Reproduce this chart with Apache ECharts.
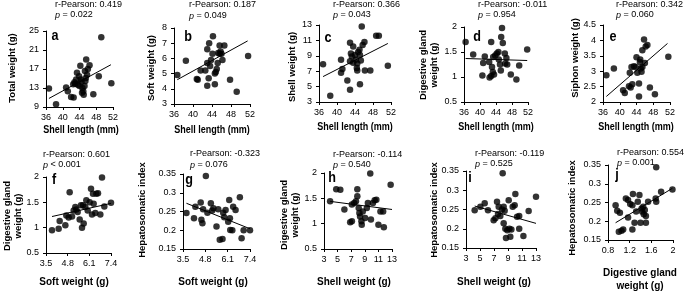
<!DOCTYPE html>
<html><head><meta charset="utf-8">
<script src="https://cdn.jsdelivr.net/npm/echarts@6/dist/echarts.min.js"></script>
<style>html,body{margin:0;padding:0;background:#fff}#c{width:685px;height:292px}</style>
</head><body><div id="c"></div>
<script>
// ---- data ----
const aData = [[36.7,12.9],[38.4,9.6],[40.8,13.1],[41.2,12.3],[42.0,11.1],[42.6,11.0],[42.8,14.2],[43.2,14.8],[43.4,16.2],[43.6,13.7],[44.0,13.4],[44.2,17.7],[44.5,14.3],[44.7,13.0],[44.9,12.3],[45.0,11.6],[45.3,16.6],[45.5,15.1],[45.6,19.0],[45.8,15.8],[46.0,17.0],[46.4,17.8],[47.3,11.7],[48.6,15.5],[49.2,23.7],[51.6,14.0],[43.0,13.9],[44.3,14.8],[45.2,13.4],[43.9,15.5],[42.5,13.8],[44.6,12.0],[45.4,14.5]];
const aTrend = [[36.7,10.8],[51.5,17.9]];
const bData = [[36.7,4.9],[38.5,5.85],[40.8,4.65],[41.0,4.6],[41.6,5.2],[42.6,5.2],[43.0,5.7],[43.0,6.6],[43.0,4.2],[43.3,4.7],[43.4,7.0],[43.6,5.5],[43.8,5.9],[44.1,6.3],[44.2,7.45],[44.6,4.3],[44.8,5.1],[45.0,5.3],[45.2,5.7],[45.3,6.35],[45.6,6.3],[45.8,6.45],[45.6,6.85],[46.2,5.9],[46.6,6.85],[46.0,6.3],[47.8,4.6],[49.2,3.8],[51.6,6.15],[44.6,5.0]];
const bTrend = [[36.7,4.6],[51.5,7.15]];
const cData = [[36.9,7.9],[38.5,3.8],[40.9,8.5],[40.9,6.8],[41.2,7.3],[42.3,5.8],[42.9,10.7],[42.9,4.6],[42.9,8.3],[43.1,9.3],[43.3,8.9],[43.6,10.2],[43.6,8.1],[44.0,9.1],[44.2,8.5],[44.5,8.0],[44.5,7.1],[44.7,9.5],[45.0,9.8],[45.1,9.1],[45.3,8.4],[45.1,5.3],[45.5,12.8],[45.7,10.4],[46.1,10.8],[46.2,7.1],[47.4,7.1],[48.7,11.6],[49.3,11.6],[51.3,7.7],[44.4,7.4]];
const cTrend = [[36.9,6.3],[51.3,10.6]];
const dData = [[36.4,1.70],[38.3,1.45],[40.6,1.03],[40.8,1.28],[41.2,1.41],[42.3,1.30],[42.4,0.99],[42.8,1.02],[42.8,1.70],[43.0,1.20],[43.2,1.10],[43.5,1.05],[43.3,1.40],[43.8,1.43],[44.2,1.47],[44.6,1.50],[44.7,1.35],[45.0,1.25],[45.2,1.13],[45.3,1.80],[45.5,1.98],[45.7,1.68],[46.2,1.47],[46.3,1.27],[46.6,1.38],[46.8,1.25],[47.7,1.05],[49.1,0.95],[49.8,1.23],[51.8,1.55]];
const dTrend = [[36.4,1.37],[51.8,1.33]];
const eData = [[36.8,2.87],[38.6,3.09],[40.8,2.38],[41.2,2.29],[42.2,2.51],[42.6,2.47],[43.0,2.58],[42.8,3.14],[42.4,2.95],[43.4,3.16],[43.8,3.14],[44.0,3.45],[44.2,2.95],[44.6,2.6],[44.6,2.18],[44.8,3.3],[45.0,3.09],[45.2,2.98],[45.4,3.14],[45.4,3.68],[45.8,4.03],[46.2,3.8],[46.6,3.85],[46.0,3.27],[47.2,2.47],[48.4,2.25],[51.6,3.47],[44.9,3.38]];
const eTrend = [[36.8,2.18],[51.4,3.9]];
const fData = [[3.86,0.95],[4.26,0.98],[4.32,1.13],[4.66,1.05],[4.72,1.24],[4.86,1.2],[4.92,1.70],[5.06,1.22],[5.16,1.34],[5.26,1.41],[5.32,1.36],[5.4,1.31],[5.52,1.16],[5.66,1.0],[5.76,1.08],[5.6,1.44],[5.72,1.44],[5.86,1.41],[5.92,1.54],[6.0,1.34],[6.12,1.5],[6.2,1.77],[6.26,1.26],[6.32,1.67],[6.36,1.47],[6.46,1.29],[6.52,1.67],[6.62,1.68],[6.76,1.26],[6.86,1.99],[7.0,1.42],[7.4,1.49]];
const fTrend = [[3.86,1.22],[7.4,1.48]];
const gData = [[3.7,0.246],[4.14,0.232],[4.22,0.263],[4.53,0.274],[4.57,0.228],[4.63,0.219],[4.67,0.256],[4.83,0.345],[4.92,0.247],[5.12,0.272],[5.2,0.253],[5.27,0.259],[5.45,0.21],[5.55,0.256],[5.64,0.175],[5.8,0.177],[5.84,0.247],[5.9,0.235],[5.98,0.254],[6.13,0.223],[6.19,0.281],[6.23,0.232],[6.25,0.201],[6.37,0.2],[6.42,0.263],[6.56,0.254],[6.81,0.288],[6.91,0.179],[7.03,0.2],[7.4,0.2]];
const gTrend = [[3.7,0.272],[7.4,0.204]];
const hData = [[3.9,1.44],[4.8,1.68],[5.4,1.67],[6.0,1.28],[6.85,1.03],[7.1,1.05],[7.1,1.38],[7.45,1.41],[7.7,1.44],[7.9,1.68],[7.9,1.54],[8.1,1.31],[8.2,1.21],[8.3,1.14],[8.5,1.05],[8.55,0.98],[8.7,1.24],[9.05,1.11],[9.3,1.31],[9.45,1.41],[9.8,1.99],[9.9,1.08],[10.2,1.41],[10.45,1.46],[10.7,1.47],[11.0,0.98],[11.3,1.24],[11.7,1.24],[11.8,0.93],[12.8,1.77]];
const hTrend = [[3.9,1.44],[13,1.28]];
const iData = [[4.24,0.248],[5.05,0.257],[5.67,0.266],[6.14,0.248],[6.95,0.222],[7.2,0.227],[7.43,0.27],[7.57,0.238],[7.67,0.257],[7.9,0.233],[8.14,0.25],[8.24,0.344],[8.38,0.257],[8.52,0.247],[8.38,0.214],[8.62,0.2],[8.71,0.176],[8.9,0.196],[9.1,0.274],[9.2,0.2],[9.33,0.179],[9.48,0.198],[9.67,0.257],[9.95,0.261],[10.05,0.29],[10.3,0.231],[10.6,0.233],[10.6,0.2],[11.2,0.181],[11.95,0.246],[13.0,0.283]];
const iTrend = [[4.24,0.259],[13,0.214]];
const jData = [[0.94,0.243],[0.97,0.228],[1.02,0.223],[1.0,0.172],[1.05,0.175],[1.08,0.178],[1.13,0.261],[1.17,0.257],[1.17,0.21],[1.21,0.246],[1.25,0.243],[1.26,0.273],[1.29,0.196],[1.25,0.178],[1.32,0.226],[1.35,0.252],[1.38,0.27],[1.4,0.196],[1.42,0.234],[1.43,0.226],[1.45,0.239],[1.46,0.219],[1.48,0.23],[1.5,0.214],[1.5,0.196],[1.54,0.252],[1.68,0.261],[1.69,0.252],[1.69,0.344],[1.78,0.279],[1.99,0.285]];
const jTrend = [[0.94,0.196],[1.99,0.288]];

const letters = ['a','b','c','d','e','f','g','h','i','j'];
const rValues = ['0.419','0.187','0.366','-0.011','0.342','0.601','-0.323','-0.114','-0.119','0.554'];
const pValues = ['= 0.022','= 0.049','= 0.043','= 0.954','= 0.060','< 0.001','= 0.076','= 0.540','= 0.525','= 0.001'];
const yNames = ['Total weight (g)','Soft weight (g)','Shell weight (g)','Digestive gland\nweight (g)','Siphon weight (g)','Digestive gland\nweight (g)','Hepatosomatic index','Digestive gland\nweight (g)','Hepatosomatic index','Hepatosomatic index'];
const xNames = ['Shell length (mm)','Shell length (mm)','Shell length (mm)','Shell length (mm)','Shell length (mm)','Soft weight (g)','Soft weight (g)','Shell weight (g)','Shell weight (g)','Digestive gland\nweight (g)'];
const xTicks = [[36,52,4],[36,52,4],[36,52,4],[36,52,4],[36,52,4],[3.5,7.4,1.3],[3.5,7.4,1.3],[3,13,2],[3,13,2],[0.8,2,0.4]];
const yTicks = [[9,25,4],[3,8,1],[3,13,2],[0.5,2,0.5],[2,4.5,0.5],[0.5,2,0.5],[0.15,0.35,0.05],[0.5,2,0.5],[0.15,0.35,0.05],[0.15,0.35,0.05]];
const allData = [aData,bData,cData,dData,eData,fData,gData,hData,iData,jData];
const allTrend = [aTrend,bTrend,cTrend,dTrend,eTrend,fTrend,gTrend,hTrend,iTrend,jTrend];

// ---- layout ----
const grids = [
  [46,113,31,107],[174,250,28,104],[319,391,25,102],[464,528,27,102],[603,670,25,102],
  [46,111,177,253],[183,250,174,249],[324,392,173,249],[466,536,171,248],[608,673,165,240]
];
const statPos = [[55,5,15],[189,5,16],[333,5,15],[478,5,15],[616,5,15],[43,155,165],[190,154,165],[333,155,165],[475,154,164],[617,153,163]];
const letterPos = [[55,36],[188,37],[328,38],[477,37],[613,37],[54,180],[189,180],[332,178],[470,178],[617,175]];
const yNamePos = [[12,68],[151,68],[292,67],[429,65],[575,58],[13,216],[142,210],[290,215],[434,210],[572,208]];
const xNamePos = [[81,130],[212,130],[355,127],[496,127],[636,127],[74,282],[213,282],[354,282],[494,282],[640,280]];

const SANS = '"Liberation Sans",Arial,sans-serif';

const option = {animation:false, grid:[], xAxis:[], yAxis:[], series:[], graphic:[]};
for (let k=0;k<10;k++){
  const g = grids[k];
  option.grid.push({left:g[0], width:g[1]-g[0], top:g[2], height:g[3]-g[2], containLabel:false});
  const axCommon = (m) => ({
    axisLine:{show:true,onZero:false,lineStyle:{color:'#000',width:1}},
    axisTick:{show:true,length:3,lineStyle:{color:'#000'}},
    splitLine:{show:false},
    axisLabel:{color:'#000',fontSize:9,fontFamily:SANS,margin:m,
      formatter:v=>String(+(+v).toFixed(2))}
  });
  option.xAxis.push(Object.assign({type:'value',gridIndex:k,min:xTicks[k][0],max:xTicks[k][1],interval:xTicks[k][2]},axCommon(6)));
  option.yAxis.push(Object.assign({type:'value',gridIndex:k,min:yTicks[k][0],max:yTicks[k][1],interval:yTicks[k][2]},axCommon(7)));
  option.series.push({type:'scatter',xAxisIndex:k,yAxisIndex:k,data:allData[k],symbolSize:6.5,itemStyle:{color:'#000'},clip:false,silent:true});
  option.series.push({type:'line',xAxisIndex:k,yAxisIndex:k,data:allTrend[k],showSymbol:false,symbol:'none',lineStyle:{color:'#000',width:1},silent:true,clip:false});
  const s = statPos[k];
  option.graphic.push({type:'text',x:s[0],y:s[1],silent:true,style:{text:'r-Pearson: '+rValues[k],fontSize:9,fontFamily:SANS,fill:'#000',align:'left',verticalAlign:'middle',textAlign:'left',textVerticalAlign:'middle'}});
  option.graphic.push({type:'text',x:s[0],y:s[2],silent:true,style:{text:'{i|p} '+pValues[k],fontSize:9,fontFamily:SANS,fill:'#000',align:'left',verticalAlign:'middle',textAlign:'left',textVerticalAlign:'middle',
    rich:{i:{fontStyle:'italic',fontSize:9,fontFamily:SANS,fill:'#000'}}}});
  const L = letterPos[k];
  option.graphic.push({type:'text',x:L[0],y:L[1],scaleX:0.9,silent:true,style:{text:letters[k],fontSize:14,fontWeight:'bold',fontFamily:SANS,fill:'#000',align:'center',verticalAlign:'middle',textAlign:'center',textVerticalAlign:'middle'}});
  const Y = yNamePos[k];
  option.graphic.push({type:'text',x:Y[0],y:Y[1],rotation:Math.PI/2,silent:true,style:{text:yNames[k],fontSize:9.5,fontWeight:'bold',fontFamily:SANS,lineHeight:11,fill:'#000',align:'center',verticalAlign:'middle',textAlign:'center',textVerticalAlign:'middle'}});
  const X = xNamePos[k];
  const top = k<5;
  option.graphic.push({type:'text',x:X[0],y:X[1],scaleX:top?0.82:1,silent:true,style:{text:xNames[k],fontSize:top?11:10,fontWeight:'bold',fontFamily:SANS,lineHeight:13,fill:'#000',align:'center',verticalAlign:'middle',textAlign:'center',textVerticalAlign:'middle'}});
}
const chart = echarts.init(document.getElementById('c'),null,{renderer:'canvas'});
chart.setOption(option);
</script></body></html>
